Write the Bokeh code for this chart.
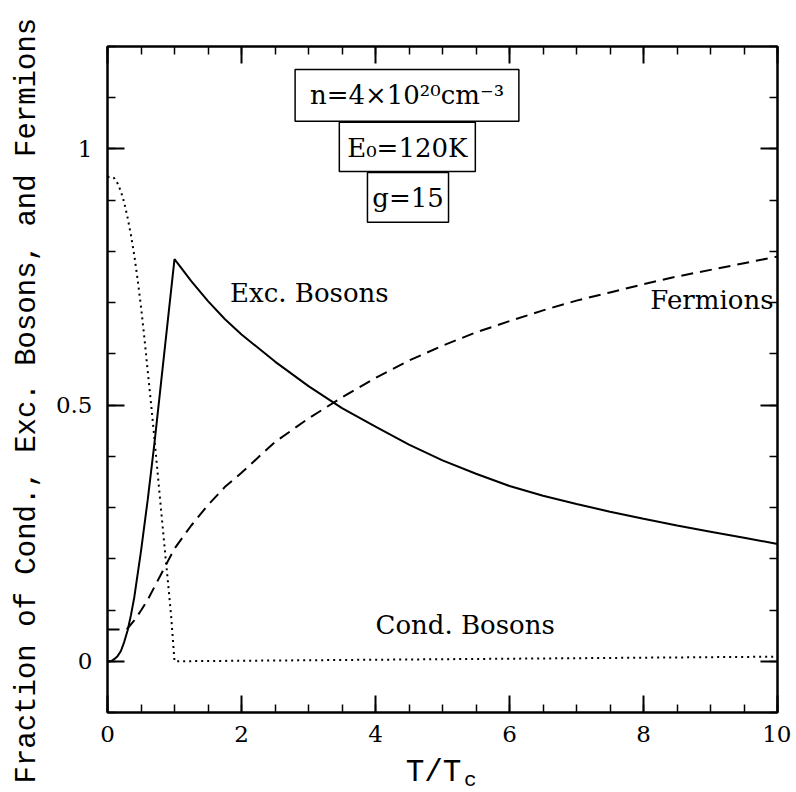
from bokeh.plotting import figure
from bokeh.models import FixedTicker, LinearAxis, Range1d, Label, BoxAnnotation, Title
from bokeh.embed import file_html
from bokeh.resources import INLINE

# ---------------- data ----------------
t_cond = [0, 0.05, 0.1, 0.15, 0.2, 0.25, 0.3, 0.35, 0.4, 0.45, 0.5, 0.55, 0.6, 0.65,
          0.7, 0.75, 0.8, 0.85, 0.9, 0.95, 1.0,
          2, 3, 4, 5, 6, 7, 8, 9, 10]
cond = [0.945, 0.946, 0.943, 0.933, 0.917, 0.895, 0.866, 0.832, 0.792, 0.745, 0.692, 0.632,
        0.567, 0.503, 0.435, 0.365, 0.295, 0.225, 0.158, 0.088, 0.0,
        0.001, 0.002, 0.003, 0.004, 0.005, 0.006, 0.007, 0.008, 0.009]

t_exc = [0, 0.05, 0.1, 0.15, 0.2, 0.25, 0.3, 0.35, 0.4, 0.5, 0.6, 0.7, 0.8, 0.9, 1.0,
         1.25, 1.5, 1.75, 2, 2.5, 3, 3.5, 4, 4.5, 5, 5.5, 6, 6.5, 7, 7.5, 8, 8.5, 9, 9.5, 10]
exc = [0.0, 0.0, 0.004, 0.01, 0.02, 0.038, 0.06, 0.09, 0.125, 0.215, 0.315, 0.425, 0.545,
       0.665, 0.785, 0.742, 0.703, 0.668, 0.638, 0.585, 0.537, 0.494, 0.458, 0.423, 0.392,
       0.366, 0.342, 0.323, 0.307, 0.292, 0.278, 0.265, 0.253, 0.241, 0.229]

t_ferm = [0, 0.1, 0.2, 0.3, 0.4, 0.5, 0.6, 0.7, 0.8, 0.9, 1.0, 1.25, 1.5, 1.75,
          2, 2.5, 3, 3.5, 4, 4.5, 5, 5.5, 6, 6.5, 7, 7.5, 8, 8.5, 9, 9.5, 10]
ferm = [0.062, 0.062, 0.062, 0.064, 0.08, 0.099, 0.12, 0.145, 0.17, 0.195, 0.22, 0.265, 0.305, 0.34,
        0.368, 0.428, 0.474, 0.515, 0.553, 0.587, 0.616, 0.642, 0.664, 0.685, 0.704, 0.72,
        0.736, 0.751, 0.764, 0.777, 0.79]

x_major = [0, 2, 4, 6, 8, 10]
x_minor = [i * 0.5 for i in range(21)]
y_major = [0, 0.5, 1]
y_minor = [round(-0.1 + i * 0.1, 2) for i in range(14)]
y_labels = {0: "0", 0.5: "0.5", 1: "1"}

info_texts = ["n=4×10²⁰cm⁻³", "E₀=120K", "g=15"]
curve_names = ["Exc. Bosons", "Fermions", "Cond. Bosons"]
y_title = "Fraction of Cond., Exc. Bosons, and Fermions"
x_title = "T/T"
x_sub = "c"

SERIF = "DejaVu Serif"
MONO = "Liberation Mono"
SHIFT = 0.018   # labels are drawn a little low; compensate

p = figure(frame_width=670, frame_height=666,
           x_range=Range1d(0, 10), y_range=Range1d(-0.1, 1.2),
           output_backend="svg", toolbar_location=None,
           min_border_left=107, min_border_right=14,
           min_border_top=46, min_border_bottom=79)
p.background_fill_color = "white"
p.border_fill_color = "white"
p.outline_line_color = "black"
p.outline_line_width = 2
p.xgrid.visible = False
p.ygrid.visible = False


def style_axis(ax, ticks, minor, show_labels):
    ax.ticker = FixedTicker(ticks=ticks, minor_ticks=minor)
    ax.axis_line_color = "black"
    ax.axis_line_width = 2
    ax.major_tick_in = 17
    ax.major_tick_out = 0
    ax.minor_tick_in = 8
    ax.minor_tick_out = 0
    ax.major_tick_line_width = 2
    ax.minor_tick_line_width = 1.5
    ax.major_tick_line_color = "black"
    ax.minor_tick_line_color = "black"
    if show_labels:
        ax.major_label_text_font = SERIF
        ax.major_label_text_font_size = "23px"
        ax.major_label_text_color = "black"
    else:
        ax.major_label_text_font_size = "0px"
        ax.major_label_text_color = None
        ax.major_label_standoff = 0


xa = p.xaxis[0]
style_axis(xa, x_major, x_minor, True)
xa.major_label_standoff = 13

ya = p.yaxis[0]
style_axis(ya, y_major, y_minor, True)
ya.major_label_standoff = 15
ya.major_label_overrides = y_labels

top = LinearAxis()
style_axis(top, x_major, x_minor, False)
p.add_layout(top, "above")
right = LinearAxis()
style_axis(right, y_major, y_minor, False)
p.add_layout(right, "right")

# y axis title (as a side-panel title so that it can be placed along the axis)
p.add_layout(Title(text=y_title, align="left", offset=-71, vertical_align="top",
                   standoff=14, text_font=MONO, text_font_size="29px",
                   text_font_style="normal", text_color="black"), "left")

# x axis title T/T with subscript c (in the bottom panel)
p.add_layout(Label(x=4.45, y=-0.217, text=x_title, text_font=MONO,
                   text_font_size="31px", text_color="black",
                   text_align="left", text_baseline="alphabetic"), "below")
p.add_layout(Label(x=5.32, y=-0.233, text=x_sub, text_font=MONO,
                   text_font_size="21px", text_color="black",
                   text_align="left", text_baseline="alphabetic"), "below")

# curves
p.line(t_exc, exc, line_color="black", line_width=2)
p.line(t_ferm, ferm, line_color="black", line_width=2, line_dash="12 7")
p.line(t_cond, cond, line_color="black", line_width=2, line_dash="2 4")

# curve labels
p.add_layout(Label(x=1.83, y=0.70 + SHIFT, text=curve_names[0], text_font=SERIF,
                   text_font_size="26px", text_color="black",
                   text_align="left", text_baseline="alphabetic"))
p.add_layout(Label(x=9.94, y=0.687 + SHIFT, text=curve_names[1], text_font=SERIF,
                   text_font_size="26px", text_color="black",
                   text_align="right", text_baseline="alphabetic"))
p.add_layout(Label(x=4.0, y=0.052 + SHIFT, text=curve_names[2], text_font=SERIF,
                   text_font_size="26px", text_color="black",
                   text_align="left", text_baseline="alphabetic"))

# parameter boxes
boxes = [(2.80, 6.14, 1.054, 1.155), (3.46, 5.49, 0.956, 1.052), (3.88, 5.09, 0.857, 0.954)]
baselines = [1.087, 0.983, 0.886]
for (l, r, b, t), txt, yb in zip(boxes, info_texts, baselines):
    p.add_layout(BoxAnnotation(left=l, right=r, bottom=b, top=t,
                               fill_alpha=0, line_color="black", line_alpha=1,
                               line_width=1.5))
    p.add_layout(Label(x=(l + r) / 2, y=yb + SHIFT, text=txt, text_font=SERIF,
                       text_font_size="26px", text_color="black",
                       text_align="center", text_baseline="alphabetic"))

open("out.html", "w").write(file_html(p, INLINE))
